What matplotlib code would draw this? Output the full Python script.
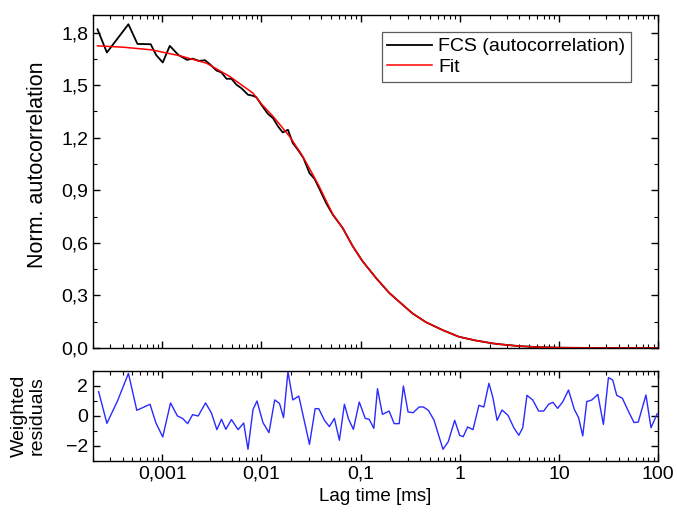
import matplotlib.pyplot as plt
from matplotlib.ticker import FuncFormatter, MultipleLocator, LogLocator, NullFormatter

plt.rcParams['font.family'] = ['Liberation Sans', 'DejaVu Sans']

# FCS data (lag in ms, normalised G)
fcs_lag = [2.22e-4, 2.76e-4, 4.55e-4, 5.61e-4, 7.64e-4, 8.65e-4, 1.01e-3, 1.19e-3,
           1.45e-3, 1.78e-3, 2.02e-3, 2.35e-3, 2.69e-3, 3.06e-3, 3.52e-3, 3.95e-3,
           4.44e-3, 4.98e-3, 5.60e-3, 6.28e-3, 7.31e-3, 8.22e-3, 8.89e-3, 9.98e-3,
           1.16e-2, 1.31e-2, 1.47e-2, 1.64e-2, 1.85e-2, 2.07e-2, 2.33e-2, 2.65e-2,
           3.05e-2, 3.43e-2, 3.90e-2, 4.49e-2, 5.24e-2, 6.59e-2, 8.32e-2, 0.1047, 0.1428,
           0.194, 0.245, 0.333, 0.454, 0.667, 0.982, 1.445, 2.12, 2.48, 3.94,
           6.25, 9.93, 20.0, 100.0]
fcs_val = [1.818, 1.686, 1.847, 1.735, 1.733, 1.672, 1.629, 1.724,
           1.672, 1.644, 1.651, 1.638, 1.642, 1.616, 1.583, 1.572,
           1.536, 1.536, 1.502, 1.482, 1.445, 1.439, 1.430, 1.388,
           1.336, 1.311, 1.264, 1.230, 1.245, 1.169, 1.131, 1.084,
           0.998, 0.965, 0.900, 0.827, 0.761, 0.685, 0.581, 0.495, 0.400,
           0.315, 0.264, 0.198, 0.148, 0.103, 0.064, 0.043, 0.027, 0.022, 0.011,
           0.005, 0.002, 0.0005, 0.0]

fit_lag = [2.22e-4, 4.06e-4, 7.82e-4, 1.51e-3, 2.79e-3, 4.79e-3, 8.22e-3, 1.0e-2,
           1.31e-2, 1.6e-2, 1.92e-2, 2.5e-2, 2.8e-2, 3.30e-2, 3.8e-2, 4.49e-2,
           5.24e-2, 6.59e-2, 8.32e-2, 0.1047, 0.1428,
           0.194, 0.245, 0.333, 0.454, 0.667, 0.982, 1.445, 2.12, 2.48, 3.94,
           6.25, 9.93, 20.0, 100.0]
fit_val = [1.724, 1.716, 1.701, 1.667, 1.625, 1.549, 1.454, 1.392,
           1.321, 1.262, 1.207, 1.110, 1.062, 0.989, 0.925, 0.840,
           0.764, 0.685, 0.581, 0.495, 0.400,
           0.315, 0.264, 0.198, 0.148, 0.103, 0.064, 0.043, 0.027, 0.022, 0.011,
           0.005, 0.002, 0.0005, 0.0]

# weighted residuals
res_lag = [2.28e-4, 2.76e-4, 3.53e-4, 4.55e-4, 5.53e-4, 7.52e-4, 8.59e-4, 1.01e-3,
           1.21e-3, 1.42e-3, 1.60e-3, 1.80e-3, 2.02e-3, 2.30e-3, 2.73e-3, 3.13e-3,
           3.55e-3, 3.95e-3, 4.37e-3, 4.98e-3, 5.81e-3, 6.62e-3, 7.31e-3, 8.22e-3,
           9.02e-3, 1.035e-2, 1.19e-2, 1.36e-2, 1.52e-2, 1.67e-2, 1.85e-2, 2.07e-2,
           2.38e-2, 3.05e-2, 3.48e-2, 3.78e-2, 4.32e-2, 4.84e-2, 5.44e-2, 6.11e-2,
           6.86e-2, 7.57e-2, 8.45e-2, 9.70e-2, 0.1114, 0.122, 0.136, 0.148,
           0.166, 0.194, 0.218, 0.245, 0.270, 0.301, 0.339, 0.389,
           0.430, 0.482, 0.550, 0.608, 0.678, 0.766, 0.889, 0.998,
           1.084, 1.20, 1.36, 1.56, 1.75, 1.97, 2.16, 2.38,
           2.67, 3.07, 3.51, 3.94, 4.32, 4.76, 5.44, 6.25,
           7.02, 7.87, 8.71, 9.71, 10.9, 12.5, 14.3, 15.8,
           17.4, 19.1, 21.5, 24.7, 28.1, 31.6, 34.9, 38.3,
           43.7, 50.1, 57.3, 63.2, 75.5, 84.9, 98.0]
res_val = [1.62, -0.49, 1.00, 2.84, 0.38, 0.78, -0.44, -1.40,
           0.87, 0.00, -0.16, -0.51, 0.09, 0.00, 0.87, 0.20,
           -0.91, -0.22, -0.89, -0.24, -0.91, -0.47, -2.22, 0.44,
           1.00, -0.44, -1.11, 1.07, 0.84, -0.11, 2.96, 1.07,
           1.33, -1.89, 0.49, 0.49, -0.29, -0.71, -0.16, -1.62,
           0.78, -0.22, -0.89, 0.93, -0.16, -0.22, -0.82, 1.82,
           0.11, 0.33, -0.51, -0.51, 2.00, 0.27, 0.22, 0.60,
           0.60, 0.38, -0.27, -1.22, -2.22, -1.71, -0.29, -1.29,
           -1.38, -0.73, -0.91, 0.71, 0.60, 2.18, 1.22, -0.29,
           0.40, 0.04, -0.78, -1.29, -0.78, 1.38, 1.07, 0.33,
           0.33, 0.78, 0.91, 0.51, 0.93, 1.73, 0.44, -0.11,
           -1.33, 0.96, 1.07, 1.44, -0.56, 2.56, 2.40, 1.38,
           1.18, 0.33, -0.44, -0.40, 1.40, -0.78, 0.15]

x_ticks = [0.001, 0.01, 0.1, 1, 10, 100]


def comma(v, pos):
    s = ('%g' % v) if v >= 0.001 else ''
    return s.replace('.', ',')


fig = plt.figure(figsize=(6.77, 5.13), dpi=100)
ax = fig.add_axes([0.1374, 0.3216, 0.8346, 0.6492])
axr = fig.add_axes([0.1374, 0.1014, 0.8346, 0.1754], sharex=ax)

ax.plot(fcs_lag, fcs_val, color='black', lw=1.3, label='FCS (autocorrelation)')
ax.plot(fit_lag, fit_val, color='red', lw=1.1, label='Fit')
axr.plot(res_lag, res_val, color='#2a2aff', lw=1.0)

ax.set_xscale('log')
ax.set_xlim(2e-4, 100)
ax.set_ylim(0, 1.9)
axr.set_ylim(-3, 3)

for a in (ax, axr):
    a.tick_params(which='both', direction='in', top=True, right=True, labelsize=14)
    a.tick_params(which='major', length=5, width=1)
    a.tick_params(which='minor', length=3, width=0.8)
    a.xaxis.set_major_locator(LogLocator(base=10))
    a.xaxis.set_minor_locator(LogLocator(base=10, subs=range(2, 10)))
    for s in a.spines.values():
        s.set_linewidth(1.0)

ax.yaxis.set_major_locator(MultipleLocator(0.3))
ax.yaxis.set_minor_locator(MultipleLocator(0.15))
ax.yaxis.set_major_formatter(FuncFormatter(lambda v, p: ('%.1f' % v).replace('.', ',')))
ax.tick_params(axis='x', which='both', labelbottom=False)

axr.yaxis.set_major_locator(MultipleLocator(2))
axr.yaxis.set_minor_locator(MultipleLocator(1))
axr.set_xticks(x_ticks)
axr.xaxis.set_major_formatter(FuncFormatter(comma))
axr.xaxis.set_minor_formatter(NullFormatter())
axr.set_xlim(2e-4, 100)

ax.set_ylabel('Norm. autocorrelation', fontsize=15.5)
ax.yaxis.set_label_coords(-0.08, 0.55)
axr.set_ylabel('Weighted\nresiduals', fontsize=14, linespacing=1.1)
axr.yaxis.set_label_coords(-0.083, 0.5)
axr.set_xlabel('Lag time [ms]', fontsize=13.5)

leg = ax.legend(loc='upper right', bbox_to_anchor=(0.952, 0.949), fontsize=14,
                frameon=True, fancybox=False, edgecolor='#333333', handlelength=2.3,
                handletextpad=0.3, labelspacing=0.15, borderpad=0.3, borderaxespad=0)
leg.get_frame().set_linewidth(0.9)

fig.savefig('out.png', dpi=100)
